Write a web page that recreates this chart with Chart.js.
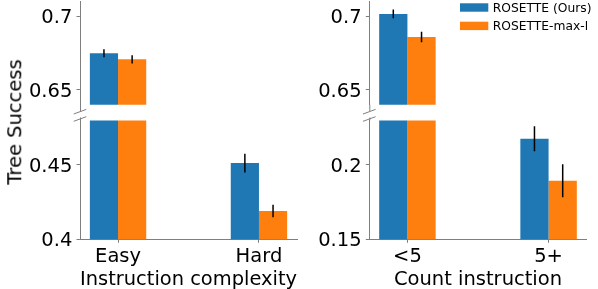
<!DOCTYPE html>
<html><head><meta charset="utf-8">
<script src="https://cdn.jsdelivr.net/npm/chart.js@4"></script>
<style>
html,body{margin:0;padding:0;width:598px;height:289px;overflow:hidden;background:#fff;position:relative;}
canvas{position:absolute;}
#ytitle{position:absolute;left:15.3px;top:121.5px;transform:translate(-50%,-50%) rotate(-90deg);font-family:"DejaVu Sans";font-size:19.5px;line-height:1;white-space:nowrap;color:#000;}
</style></head><body>
<canvas id="lt" width="300" height="120" style="left:0;top:0"></canvas>
<canvas id="lb" width="300" height="180" style="left:0;top:112px"></canvas>
<canvas id="rt" width="308" height="120" style="left:290px;top:0"></canvas>
<canvas id="rb" width="308" height="180" style="left:290px;top:112px"></canvas>
<div id="ytitle"></div>
<script>
// ---- data ----
const seriesNames = ['ROSETTE (Ours)', 'ROSETTE-max-l'];
const complexityCategories = ['Easy', 'Hard'];
const complexityOurs = [0.6748, 0.4513];
const complexityOursErr = [0.0027, 0.0063];
const complexityMaxL = [0.6707, 0.4191];
const complexityMaxLErr = [0.0028, 0.0042];
const countCategories = ['<5', '5+'];
const countOurs = [0.7014, 0.2176];
const countOursErr = [0.0030, 0.0084];
const countMaxL = [0.6858, 0.1894];
const countMaxLErr = [0.0036, 0.0111];
const upperTicks = [0.65, 0.7];
const complexityLowerTicks = [0.4, 0.45];
const countLowerTicks = [0.15, 0.2];
const xTitles = ['Instruction complexity', 'Count instruction'];
const yTitle = 'Tree Success';

// ---- styles ----
const colors = ['#1f77b4', '#ff7f0e'];
const spine = '#7f7f7f';
const FONT = 'DejaVu Sans';
const tickFont = {family: FONT, size: 19.5};

document.getElementById('ytitle').textContent = yTitle;

const errorBarPlugin = {
  id: 'errbars',
  afterDatasetsDraw(chart) {
    const ctx = chart.ctx, a = chart.chartArea, y = chart.scales.y;
    ctx.save();
    ctx.beginPath(); ctx.rect(a.left, a.top, a.right - a.left, a.bottom - a.top); ctx.clip();
    ctx.strokeStyle = '#000'; ctx.lineWidth = 1.5;
    chart.data.datasets.forEach((ds, di) => {
      chart.getDatasetMeta(di).data.forEach((bar, i) => {
        const v = ds.data[i].y, e = ds.errors[i];
        ctx.beginPath();
        ctx.moveTo(bar.x, y.getPixelForValue(v + e));
        ctx.lineTo(bar.x, y.getPixelForValue(v - e));
        ctx.stroke();
      });
    });
    ctx.restore();
  }
};

// nudge y tick labels so the digits sit centred on their ticks (like matplotlib)
const yLabelNudge = {
  id: 'ynudge',
  beforeDraw(chart) {
    const s = chart.scales.y;
    const items = s.getLabelItems(chart.chartArea);
    if (items._nudged) return;
    items.forEach(it => { it.options.translation = [it.options.translation[0], it.options.translation[1] + 1.8]; });
    items._nudged = true;
  }
};

const breakPlugin = {
  id: 'breakmark',
  afterDraw(chart, args, o) {
    const ctx = chart.ctx, a = chart.chartArea, x0 = a.left;
    ctx.save();
    ctx.strokeStyle = spine; ctx.lineWidth = 1;
    let yc;
    ctx.beginPath();
    if (o.edge === 'bottom') {
      ctx.moveTo(x0 + 0.5, a.bottom); ctx.lineTo(x0 + 0.5, a.bottom + 6.2);
      yc = a.bottom + 6.9;
    } else {
      ctx.moveTo(x0 + 0.5, a.top - 2.9); ctx.lineTo(x0 + 0.5, a.top);
      yc = a.top - 1.4;
    }
    ctx.stroke();
    ctx.beginPath();
    ctx.moveTo(x0 - 6.3, yc + 2.3); ctx.lineTo(x0 + 6.3, yc - 2.3);
    ctx.stroke();
    ctx.restore();
  }
};

const legendPlugin = {
  id: 'rlegend',
  afterDraw(chart, args, o) {
    if (!o.show) return;
    const ctx = chart.ctx;
    ctx.save();
    ctx.font = '12.3px "DejaVu Sans"';
    ctx.textBaseline = 'alphabetic'; ctx.textAlign = 'left';
    chart.data.datasets.forEach((ds, i) => {
      const top = o.y + i * o.rowGap;
      ctx.fillStyle = ds.backgroundColor;
      ctx.fillRect(o.x, top, o.boxW, o.boxH);
      ctx.fillStyle = '#000';
      ctx.fillText(ds.label, o.x + o.boxW + o.gap, top + o.boxH + 0.2);
    });
    ctx.restore();
  }
};

function makeChart(id, cfg) {
  const {cats, ours, oursErr, maxl, maxlErr, yMin, yMax, yTicks, yWidth, padRight, isLower, xTitle, legend} = cfg;
  const ds = (label, vals, errs, color) => ({
    label, data: cats.map((c, i) => ({x: i, y: vals[i]})), errors: errs,
    backgroundColor: color, borderWidth: 0, categoryPercentage: 0.4, barPercentage: 1, clip: 0
  });
  new Chart(document.getElementById(id), {
    type: 'bar',
    data: {datasets: [ds(seriesNames[0], ours, oursErr, colors[0]), ds(seriesNames[1], maxl, maxlErr, colors[1])]},
    options: {
      responsive: false, animation: false, events: [],
      layout: {padding: isLower ? {top: 8.4, bottom: 0, left: 0, right: padRight} : {top: 1.2, bottom: 15.2, left: 0, right: padRight}},
      plugins: {
        legend: {display: false}, tooltip: {enabled: false},
        breakmark: {edge: isLower ? 'top' : 'bottom'},
        rlegend: legend ? {show: true, x: 170, y: 3.3, boxW: 28.3, boxH: 8.4, rowGap: 18.4, gap: 4.4} : {show: false}
      },
      scales: {
        x: {
          type: 'linear', min: -0.27, max: 1.27, display: isLower, offset: false,
          afterBuildTicks: s => { s.ticks = cats.map((c, i) => ({value: i})); },
          afterFit: s => { if (isLower) s.height = 52.7; s.paddingLeft = 0; s.paddingRight = 0; s.paddingTop = 0; s.paddingBottom = 0; },
          ticks: {callback: v => cats[v], font: tickFont, color: '#000', padding: 2, maxRotation: 0, autoSkip: false},
          grid: {offset: false, drawOnChartArea: false, drawTicks: true, tickLength: 3.5, color: spine},
          border: {display: true, color: spine, width: 1},
          title: {display: isLower, text: xTitle, font: tickFont, color: '#000', padding: 0}
        },
        y: {
          type: 'linear', min: yMin, max: yMax,
          afterBuildTicks: s => { s.ticks = yTicks.map(v => ({value: v})); },
          afterFit: s => { s.width = yWidth; s.paddingTop = 0; s.paddingBottom = 0; s.paddingLeft = 0; s.paddingRight = 0; },
          ticks: {callback: v => String(v), font: tickFont, color: '#000', padding: 4.2},
          grid: {drawOnChartArea: false, drawTicks: true, tickLength: 3.5, color: spine},
          border: {display: true, color: spine, width: 1}
        }
      }
    },
    plugins: [errorBarPlugin, yLabelNudge, breakPlugin, legendPlugin]
  });
}

const left = {cats: complexityCategories, ours: complexityOurs, oursErr: complexityOursErr, maxl: complexityMaxL, maxlErr: complexityMaxLErr, yWidth: 80, padRight: 3, xTitle: xTitles[0]};
const right = {cats: countCategories, ours: countOurs, oursErr: countOursErr, maxl: countMaxL, maxlErr: countMaxLErr, yWidth: 79.3, padRight: 11.3, xTitle: xTitles[1]};

makeChart('lt', {...left, yMin: 0.64, yMax: 0.71, yTicks: upperTicks, isLower: false});
makeChart('lb', {...left, yMin: 0.4, yMax: 0.48, yTicks: complexityLowerTicks, isLower: true});
makeChart('rt', {...right, yMin: 0.64, yMax: 0.71, yTicks: upperTicks, isLower: false, legend: true});
makeChart('rb', {...right, yMin: 0.15, yMax: 0.23, yTicks: countLowerTicks, isLower: true});
</script>
</body></html>
